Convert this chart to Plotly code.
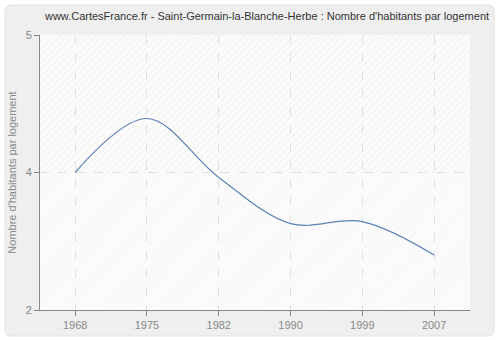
import plotly.graph_objects as go

years = ["1968", "1975", "1982", "1990", "1999", "2007"]
values = [3.50, 4.05, 3.45, 2.98, 3.00, 2.66]
ytick_vals = [2.1, 3.5, 4.9]
ytick_text = ["2", "4", "5"]

title = "www.CartesFrance.fr - Saint-Germain-la-Blanche-Herbe : Nombre d'habitants par logement"

xpos = list(range(len(years)))
x_lo, x_hi = -0.49, len(years) - 0.5
y_lo, y_hi = 2.1, 4.9
y_mid = (y_lo + y_hi) / 2

fig = go.Figure()

# hatched background, upper half stronger than lower half
fig.add_trace(go.Scatter(
    x=[x_lo, x_hi, x_hi, x_lo, x_lo], y=[y_mid, y_mid, y_hi, y_hi, y_mid],
    fill="toself", mode="none", hoverinfo="skip", showlegend=False,
    fillcolor="rgba(0,0,0,0)",
    fillpattern=dict(shape="/", fgcolor="rgba(0,0,0,0.08)", bgcolor="rgba(0,0,0,0)", size=5, solidity=0.2),
))
fig.add_trace(go.Scatter(
    x=[x_lo, x_hi, x_hi, x_lo, x_lo], y=[y_lo, y_lo, y_mid, y_mid, y_lo],
    fill="toself", mode="none", hoverinfo="skip", showlegend=False,
    fillcolor="rgba(0,0,0,0)",
    fillpattern=dict(shape="/", fgcolor="rgba(0,0,0,0.03)", bgcolor="rgba(0,0,0,0)", size=5, solidity=0.2),
))

fig.add_trace(go.Scatter(
    x=xpos, y=values, mode="lines", line=dict(color="#5a82b4", width=1.2, shape="spline", smoothing=1.0),
    showlegend=False, hoverinfo="skip",
))

# outer rounded frame
W0, H0 = 40, 310
def px(x):
    return x - W0
def py(y):
    return H0 - y
x1, x2, y1, y2, r = 5, 494, 5, 336, 6
path = (f"M {px(x1+r)} {py(y1)} L {px(x2-r)} {py(y1)} Q {px(x2)} {py(y1)} {px(x2)} {py(y1+r)} "
        f"L {px(x2)} {py(y2-r)} Q {px(x2)} {py(y2)} {px(x2-r)} {py(y2)} "
        f"L {px(x1+r)} {py(y2)} Q {px(x1)} {py(y2)} {px(x1)} {py(y2-r)} "
        f"L {px(x1)} {py(y1+r)} Q {px(x1)} {py(y1)} {px(x1+r)} {py(y1)} Z")
fig.add_shape(type="path", xref="paper", yref="paper", xsizemode="pixel", ysizemode="pixel",
              xanchor=0, yanchor=0, path=path, fillcolor="#efefef",
              line=dict(color="#e2e2e2", width=1), layer="below")
# plot area background
fig.add_shape(type="rect", xref="paper", yref="paper", x0=0, x1=1, y0=0, y1=1,
              fillcolor="#fbfbfb", line=dict(width=0), layer="below")

fig.update_layout(
    width=500, height=340,
    margin=dict(l=40, r=30, t=35, b=30, autoexpand=False),
    paper_bgcolor="#ffffff",
    plot_bgcolor="rgba(0,0,0,0)",
    font=dict(family="Liberation Sans", size=11, color="#888888"),
    title=dict(text=title, x=0.534, xanchor="center", y=0.952, yanchor="middle",
               font=dict(family="Liberation Sans", size=11, color="#333333")),
    xaxis=dict(range=[x_lo, x_hi], tickvals=xpos, ticktext=years, showgrid=True, gridcolor="#e2e2e2",
               griddash="dash", gridwidth=1, ticks="outside", ticklen=5, tickcolor="#888888",
               showline=True, linecolor="#888888", linewidth=1, zeroline=False, automargin=False,
               tickfont=dict(size=11, color="#888888")),
    yaxis=dict(range=[y_lo, y_hi], tickvals=ytick_vals, ticktext=ytick_text, showgrid=True,
               gridcolor="#e2e2e2", griddash="dash", gridwidth=1, ticks="outside", ticklen=5,
               tickcolor="#888888", showline=True, linecolor="#888888", linewidth=1,
               zeroline=False, automargin=False, tickfont=dict(size=11, color="#888888"),
               title=dict(text="Nombre d'habitants par logement", font=dict(size=11, color="#888888"),
                          standoff=6)),
)

fig.write_html("out.html")
